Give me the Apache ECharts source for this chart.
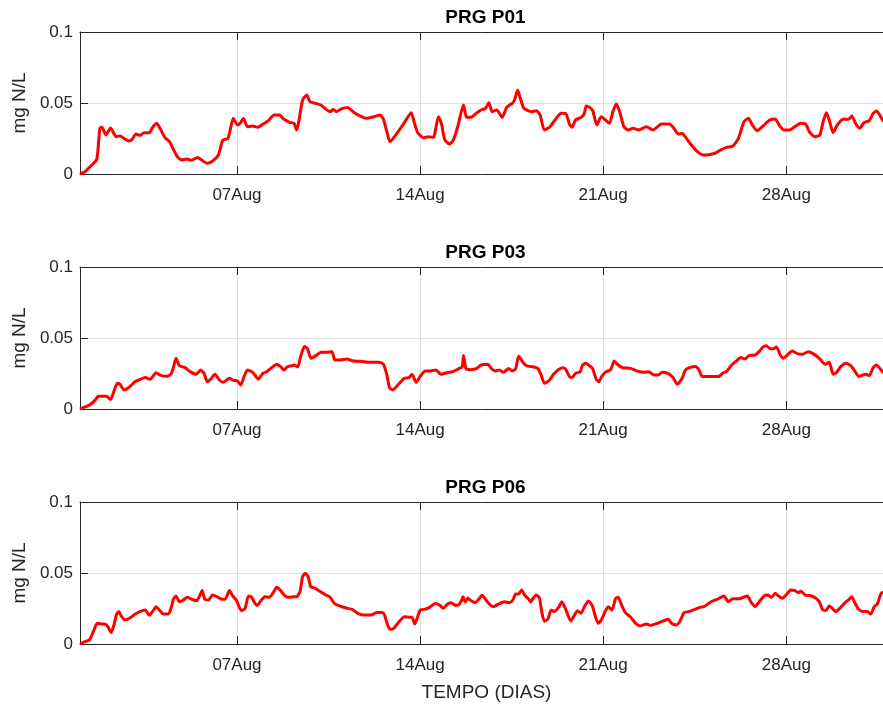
<!DOCTYPE html>
<html><head><meta charset="utf-8">
<script src="https://cdn.jsdelivr.net/npm/echarts@6/dist/echarts.min.js"></script>
<style>html,body{margin:0;padding:0;background:#fff}#c{width:883px;height:704px}</style>
</head><body><div id="c"></div>
<script>
// Titles, ticks (x values = days since 01-Aug 00:00)
const panelTitles = ['PRG P01', 'PRG P03', 'PRG P06'];
const tickDays = [6, 13, 20, 27];
const tickLabels = ['07Aug', '14Aug', '21Aug', '28Aug'];
const yLabel = 'mg N/L';
const xLabel = 'TEMPO (DIAS)';

const p01Days = [0,0.19,0.41,0.64,0.76,0.84,0.99,1.17,1.38,1.53,1.68,1.86,2.00,2.14,2.29,2.45,2.65,2.78,2.93,3.08,3.24,3.42,3.57,3.72,3.89,4.08,4.27,4.49,4.65,4.87,5.07,5.29,5.46,5.66,5.86,6.02,6.12,6.25,6.40,6.60,6.78,6.99,7.20,7.42,7.62,7.80,8.01,8.18,8.28,8.51,8.67,8.79,9.00,9.21,9.41,9.56,9.69,9.81,9.98,10.23,10.45,10.68,10.96,11.25,11.47,11.60,11.73,11.85,12.11,12.40,12.66,12.78,12.91,13.13,13.33,13.51,13.70,13.82,13.94,14.12,14.27,14.44,14.66,14.78,14.95,15.14,15.33,15.50,15.63,15.75,15.93,16.14,16.31,16.52,16.61,16.73,16.82,16.95,17.12,17.28,17.44,17.59,17.75,17.95,18.18,18.39,18.58,18.71,18.81,18.94,19.16,19.28,19.35,19.48,19.60,19.76,19.92,20.11,20.24,20.37,20.50,20.63,20.79,20.96,21.14,21.36,21.65,21.90,22.23,22.54,22.70,22.87,23.02,23.18,23.34,23.56,23.81,24.04,24.27,24.49,24.71,24.96,25.17,25.38,25.55,25.70,25.89,26.15,26.36,26.57,26.75,26.91,27.13,27.36,27.55,27.74,27.90,28.10,28.28,28.41,28.53,28.64,28.79,28.95,29.17,29.38,29.50,29.66,29.81,29.97,30.17,30.32,30.45,30.57,30.68,30.75];
const p01Vals = [0,0.0016,0.0056,0.0103,0.0322,0.0329,0.0275,0.0324,0.0263,0.0268,0.0251,0.0232,0.0246,0.0282,0.0272,0.0291,0.0291,0.0329,0.0357,0.0315,0.0258,0.0228,0.0174,0.0122,0.0099,0.0106,0.0096,0.0117,0.0099,0.0075,0.0092,0.0134,0.0239,0.0251,0.0392,0.0345,0.0357,0.0390,0.0333,0.0338,0.0329,0.0350,0.0376,0.0415,0.0415,0.0385,0.0364,0.0357,0.0310,0.0521,0.0556,0.0509,0.0498,0.0486,0.0455,0.0439,0.0455,0.0439,0.0458,0.0469,0.0437,0.0411,0.0392,0.0404,0.0415,0.0385,0.0298,0.0228,0.0286,0.0362,0.0432,0.0362,0.0291,0.0256,0.0263,0.0258,0.0404,0.0352,0.0244,0.0211,0.0239,0.0333,0.0486,0.0399,0.0399,0.0427,0.0451,0.0462,0.0502,0.0439,0.0451,0.0399,0.0469,0.0498,0.0521,0.0592,0.0540,0.0469,0.0446,0.0439,0.0446,0.0415,0.0310,0.0329,0.0385,0.0427,0.0423,0.0352,0.0329,0.0380,0.0399,0.0427,0.0479,0.0469,0.0446,0.0345,0.0404,0.0376,0.0357,0.0439,0.0493,0.0439,0.0333,0.0310,0.0322,0.0310,0.0333,0.0310,0.0352,0.0352,0.0322,0.0282,0.0286,0.0251,0.0211,0.0164,0.0134,0.0136,0.0146,0.0169,0.0188,0.0197,0.0251,0.0369,0.0392,0.0345,0.0305,0.0345,0.0380,0.0387,0.0338,0.0310,0.0310,0.0338,0.0357,0.0352,0.0291,0.0263,0.0275,0.0369,0.0432,0.0380,0.0291,0.0345,0.0385,0.0385,0.0408,0.0352,0.0322,0.0362,0.0376,0.0427,0.0444,0.0415,0.0380,0.0365];

const p03Days = [0,0.23,0.41,0.57,0.71,0.89,1.02,1.17,1.30,1.43,1.53,1.68,1.89,2.10,2.32,2.50,2.68,2.91,3.06,3.31,3.47,3.57,3.67,3.80,4.02,4.21,4.44,4.61,4.74,4.87,5.00,5.16,5.33,5.48,5.71,5.86,6.02,6.14,6.27,6.40,6.60,6.82,6.99,7.14,7.33,7.52,7.67,7.80,7.93,8.09,8.19,8.32,8.45,8.58,8.70,8.83,9.02,9.21,9.41,9.63,9.74,9.92,10.20,10.45,10.74,11.06,11.42,11.60,11.73,11.83,11.95,12.15,12.40,12.57,12.69,12.85,13.04,13.20,13.42,13.61,13.80,13.99,14.25,14.50,14.61,14.66,14.76,14.95,15.17,15.33,15.59,15.72,15.88,16.03,16.19,16.39,16.52,16.65,16.77,16.93,17.08,17.31,17.50,17.63,17.75,17.95,18.10,18.30,18.48,18.58,18.71,18.81,18.94,19.12,19.20,19.32,19.48,19.60,19.73,19.83,19.94,20.11,20.28,20.42,20.57,20.75,21.05,21.30,21.56,21.75,21.94,22.10,22.26,22.49,22.67,22.83,23.00,23.15,23.30,23.53,23.66,23.79,24.04,24.40,24.58,24.71,24.91,25.09,25.26,25.42,25.57,25.80,25.96,26.11,26.24,26.36,26.49,26.62,26.77,26.88,27.04,27.23,27.42,27.61,27.84,28.02,28.23,28.35,28.48,28.64,28.79,28.92,29.08,29.27,29.46,29.63,29.78,29.91,30.04,30.17,30.32,30.45,30.59,30.68,30.75];
const p03Vals = [0,0.0016,0.0033,0.0061,0.0089,0.0089,0.0089,0.0066,0.0127,0.0181,0.0174,0.0134,0.0155,0.0192,0.0211,0.0221,0.0209,0.0256,0.0239,0.0230,0.0244,0.0291,0.0357,0.0305,0.0291,0.0263,0.0244,0.0275,0.0251,0.0192,0.0211,0.0244,0.0204,0.0188,0.0216,0.0202,0.0197,0.0169,0.0228,0.0275,0.0258,0.0211,0.0251,0.0263,0.0291,0.0315,0.0298,0.0275,0.0298,0.0305,0.0310,0.0296,0.0380,0.0441,0.0423,0.0357,0.0376,0.0399,0.0399,0.0404,0.0345,0.0345,0.0352,0.0338,0.0336,0.0329,0.0329,0.0315,0.0239,0.0150,0.0134,0.0169,0.0216,0.0221,0.0244,0.0188,0.0239,0.0268,0.0268,0.0275,0.0244,0.0254,0.0263,0.0286,0.0296,0.0376,0.0282,0.0277,0.0286,0.0310,0.0315,0.0286,0.0268,0.0275,0.0258,0.0286,0.0268,0.0282,0.0371,0.0329,0.0303,0.0298,0.0286,0.0239,0.0181,0.0204,0.0244,0.0279,0.0291,0.0275,0.0228,0.0221,0.0251,0.0263,0.0305,0.0322,0.0305,0.0282,0.0211,0.0192,0.0228,0.0263,0.0275,0.0338,0.0310,0.0291,0.0286,0.0268,0.0258,0.0263,0.0239,0.0239,0.0258,0.0249,0.0221,0.0174,0.0211,0.0275,0.0291,0.0300,0.0275,0.0228,0.0228,0.0228,0.0254,0.0263,0.0310,0.0338,0.0362,0.0352,0.0376,0.0380,0.0404,0.0437,0.0446,0.0427,0.0423,0.0437,0.0380,0.0357,0.0380,0.0408,0.0390,0.0385,0.0404,0.0390,0.0362,0.0338,0.0315,0.0329,0.0244,0.0258,0.0298,0.0322,0.0305,0.0263,0.0228,0.0239,0.0244,0.0235,0.0291,0.0310,0.0282,0.0263,0.0255];

const p06Days = [0,0.19,0.36,0.51,0.66,0.83,0.99,1.08,1.19,1.30,1.40,1.48,1.58,1.71,1.91,2.10,2.29,2.49,2.65,2.80,2.91,3.03,3.19,3.38,3.48,3.57,3.67,3.80,3.95,4.10,4.27,4.46,4.59,4.67,4.77,4.91,5.07,5.23,5.42,5.55,5.71,5.84,5.99,6.09,6.18,6.31,6.44,6.56,6.69,6.78,6.91,7.07,7.24,7.39,7.52,7.67,7.84,8.01,8.16,8.28,8.41,8.51,8.61,8.72,8.82,9.00,9.18,9.38,9.56,9.72,9.92,10.17,10.40,10.62,10.87,11.13,11.34,11.55,11.64,11.74,11.85,11.98,12.15,12.40,12.59,12.69,12.80,13.00,13.17,13.36,13.59,13.74,13.89,14.05,14.19,14.35,14.48,14.58,14.64,14.73,14.82,14.95,15.12,15.24,15.37,15.52,15.68,15.80,16.01,16.23,16.42,16.55,16.65,16.77,16.88,17.00,17.16,17.23,17.33,17.44,17.56,17.65,17.75,17.88,18.01,18.13,18.30,18.42,18.58,18.76,19.02,19.15,19.30,19.44,19.58,19.71,19.81,19.94,20.09,20.19,20.34,20.47,20.57,20.70,20.85,21.05,21.24,21.43,21.65,21.81,22.07,22.32,22.49,22.61,22.79,22.92,23.09,23.28,23.51,23.69,23.85,24.11,24.36,24.62,24.78,24.96,25.19,25.51,25.64,25.80,25.96,26.15,26.28,26.44,26.57,26.70,26.85,27.00,27.17,27.33,27.46,27.55,27.72,27.97,28.15,28.28,28.38,28.51,28.64,28.76,28.89,29.04,29.25,29.40,29.50,29.60,29.76,29.94,30.10,30.23,30.36,30.48,30.61,30.68,30.75];
const p06Vals = [0,0.0016,0.0028,0.0087,0.0146,0.0141,0.0138,0.0117,0.0080,0.0134,0.0211,0.0228,0.0197,0.0169,0.0183,0.0209,0.0228,0.0239,0.0202,0.0235,0.0263,0.0239,0.0211,0.0211,0.0251,0.0315,0.0338,0.0298,0.0310,0.0329,0.0315,0.0305,0.0345,0.0376,0.0315,0.0310,0.0345,0.0333,0.0315,0.0315,0.0376,0.0338,0.0305,0.0258,0.0235,0.0251,0.0338,0.0329,0.0286,0.0272,0.0305,0.0333,0.0329,0.0362,0.0399,0.0376,0.0338,0.0329,0.0333,0.0333,0.0369,0.0474,0.0498,0.0474,0.0404,0.0392,0.0369,0.0347,0.0329,0.0286,0.0268,0.0254,0.0244,0.0216,0.0204,0.0204,0.0221,0.0221,0.0204,0.0146,0.0103,0.0108,0.0146,0.0192,0.0188,0.0188,0.0141,0.0239,0.0244,0.0258,0.0286,0.0275,0.0251,0.0282,0.0291,0.0272,0.0277,0.0305,0.0333,0.0296,0.0324,0.0305,0.0291,0.0315,0.0343,0.0310,0.0275,0.0263,0.0282,0.0298,0.0291,0.0310,0.0352,0.0352,0.0380,0.0343,0.0315,0.0296,0.0324,0.0345,0.0325,0.0228,0.0160,0.0174,0.0240,0.0228,0.0260,0.0298,0.0239,0.0162,0.0235,0.0216,0.0270,0.0303,0.0270,0.0188,0.0146,0.0174,0.0235,0.0263,0.0239,0.0319,0.0329,0.0275,0.0221,0.0188,0.0146,0.0127,0.0141,0.0131,0.0146,0.0164,0.0174,0.0146,0.0134,0.0155,0.0221,0.0228,0.0244,0.0258,0.0263,0.0296,0.0315,0.0338,0.0298,0.0319,0.0319,0.0338,0.0298,0.0263,0.0296,0.0338,0.0345,0.0329,0.0357,0.0338,0.0322,0.0347,0.0380,0.0376,0.0362,0.0371,0.0345,0.0338,0.0319,0.0291,0.0244,0.0235,0.0268,0.0251,0.0228,0.0251,0.0291,0.0315,0.0333,0.0298,0.0244,0.0228,0.0228,0.0211,0.0263,0.0282,0.0352,0.0362,0.0360];

const panelDays = [p01Days, p03Days, p06Days];
const panelVals = [p01Vals, p03Vals, p06Vals];

const FONT = "'Liberation Sans', Arial, Helvetica, sans-serif";
const INK = '#262626';
const GRIDC = '#dfdfdf';
const W = 883;
const tops = [32, 267, 502];
const plotH = 142, plotL = 80;
const dayPx = 26.16;                 // pixel width of one day
const fullDays = 31;                 // full axis span (01-Aug .. 01-Sep)
const visDays = (W - plotL) / dayPx; // part of the span that fits in the window
const centerX = plotL + fullDays * dayPx / 2;

const grids = [], xAxes = [], yAxes = [], series = [], graphics = [];
for (let i = 0; i < 3; i++) {
  grids.push({left: plotL, top: tops[i], right: 0, height: plotH, containLabel: false});
  xAxes.push({
    gridIndex: i, type: 'value', min: 0, max: visDays, position: 'bottom',
    axisLine: {show: true, lineStyle: {color: INK, width: 1}},
    axisTick: {show: true, inside: true, length: 8, customValues: tickDays, lineStyle: {color: INK}},
    axisLabel: {show: true, customValues: tickDays, margin: 13, color: INK, fontSize: 17, fontFamily: FONT,
      formatter: v => tickLabels[tickDays.indexOf(Math.round(v))] || ''},
    splitLine: {show: true, lineStyle: {color: GRIDC, width: 1}}
  });
  yAxes.push({
    gridIndex: i, type: 'value', min: 0, max: 0.1, interval: 0.05,
    axisLine: {show: true, lineStyle: {color: INK, width: 1}},
    axisTick: {show: true, inside: true, length: 8, lineStyle: {color: INK}},
    axisLabel: {margin: 7, color: INK, fontSize: 17, fontFamily: FONT},
    splitLine: {show: true, lineStyle: {color: GRIDC, width: 1}},
    name: yLabel, nameLocation: 'middle', nameGap: 40, nameRotate: 90,
    nameTextStyle: {color: INK, fontSize: 19, fontFamily: FONT}
  });
  series.push({
    type: 'line', xAxisIndex: i, yAxisIndex: i, symbol: 'none', smooth: 0.2,
    lineStyle: {color: '#ff0000', width: 3}, z: 5,
    data: panelDays[i].map((d, k) => [d, panelVals[i][k]])
  });
  graphics.push({
    type: 'text', x: centerX, y: tops[i] - 14,
    style: {text: panelTitles[i], textAlign: 'center', textVerticalAlign: 'middle',
      font: "bold 19px " + FONT, fill: '#000'}
  });
}
graphics.push({
  type: 'text', x: centerX + 1, y: tops[2] + plotH + 49,
  style: {text: xLabel, textAlign: 'center', textVerticalAlign: 'middle',
    font: "19px " + FONT, fill: INK}
});
for (let i = 0; i < 3; i++) {
  xAxes.push({
    gridIndex: i, type: 'value', min: 0, max: visDays, position: 'top',
    axisLine: {show: true, lineStyle: {color: INK, width: 1}},
    axisTick: {show: true, inside: true, length: 8, customValues: tickDays, lineStyle: {color: INK}},
    axisLabel: {show: false, customValues: tickDays},
    splitLine: {show: false}
  });
}

const chart = echarts.init(document.getElementById('c'), null, {renderer: 'canvas'});
chart.setOption({
  animation: false,
  backgroundColor: '#fff',
  grid: grids, xAxis: xAxes, yAxis: yAxes, series: series,
  graphic: graphics
});
</script></body></html>
